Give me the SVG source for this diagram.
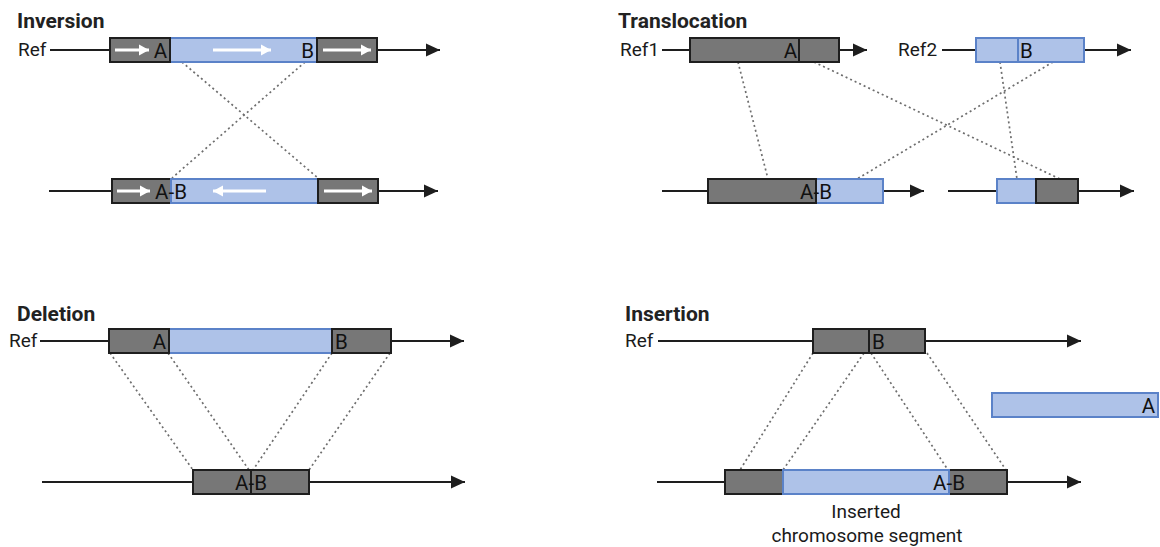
<svg xmlns="http://www.w3.org/2000/svg" width="1160" height="547" viewBox="0 0 1160 547">
  <style>
    .title { font-family: Roboto, "Liberation Sans", sans-serif; font-weight: bold; font-size: 21px; fill: #222; }
    .lbl { font-family: Roboto, "Liberation Sans", sans-serif; font-size: 19px; fill: #1a1a1a; }
    .tag { font-family: Roboto, "Liberation Sans", sans-serif; font-size: 20.5px; fill: #111; }
    .chrom { stroke: #1e1e1e; stroke-width: 2.2; fill: none; }
    .seg-g { fill: #777777; stroke: #1e1e1e; stroke-width: 2; }
    .seg-b { fill: #aec2e8; stroke: #5b82c8; stroke-width: 2; }
    .div-g { stroke: #1e1e1e; stroke-width: 2; }
    .div-b { stroke: #5b82c8; stroke-width: 2; }
    .dir { stroke: #ffffff; stroke-width: 3; fill: none; }
    .dot { stroke: #6e6e6e; stroke-width: 1.7; stroke-dasharray: 2 3; fill: none; }
  </style>
  <defs>
    <marker id="tip" markerUnits="userSpaceOnUse" markerWidth="16" markerHeight="16" refX="14" refY="8" orient="auto">
      <path d="M0,1.5 L14,8 L0,14.5 Z" fill="#1e1e1e"/>
    </marker>
    <marker id="wtip" markerUnits="userSpaceOnUse" markerWidth="12" markerHeight="14" refX="10" refY="7" orient="auto">
      <path d="M0,1.5 L10,7 L0,12.5 Z" fill="#ffffff"/>
    </marker>
  </defs>
  <rect width="1160" height="547" fill="#ffffff"/>

  <!-- panel titles -->
  <g id="titles">
    <text class="title" x="17" y="28">Inversion</text>
    <text class="title" x="618" y="28">Translocation</text>
    <text class="title" x="17" y="321">Deletion</text>
    <text class="title" x="625" y="321">Insertion</text>
  </g>

  <!-- breakpoint correspondences -->
  <g id="connectors">
    <line class="dot" x1="182" y1="62" x2="318" y2="178"/>
    <line class="dot" x1="305" y1="62" x2="172" y2="178"/>

    <line class="dot" x1="738" y1="62" x2="768" y2="179"/>
    <line class="dot" x1="814" y1="62" x2="1060" y2="179"/>
    <line class="dot" x1="1000" y1="62" x2="1017" y2="179"/>
    <line class="dot" x1="1053" y1="62" x2="857" y2="179"/>

    <line class="dot" x1="110" y1="353" x2="193" y2="470"/>
    <line class="dot" x1="168" y1="353" x2="249" y2="470"/>
    <line class="dot" x1="332" y1="353" x2="253" y2="470"/>
    <line class="dot" x1="390" y1="353" x2="309" y2="470"/>

    <line class="dot" x1="813" y1="353" x2="740" y2="470"/>
    <line class="dot" x1="864" y1="353" x2="783" y2="470"/>
    <line class="dot" x1="871" y1="353" x2="948" y2="470"/>
    <line class="dot" x1="927" y1="353" x2="1006" y2="470"/>
  </g>

  <!-- Inversion: reference -->
  <g id="inv-ref">
    <text class="lbl" x="18" y="56">Ref</text>
    <line class="chrom" x1="50" y1="50" x2="440" y2="50" marker-end="url(#tip)"/>
    <rect class="seg-b" x="170" y="38" width="147" height="24"/>
    <rect class="seg-g" x="110" y="38" width="60" height="24"/>
    <rect class="seg-g" x="317" y="38" width="60" height="24"/>
    <line class="dir" x1="115" y1="50" x2="149" y2="50" marker-end="url(#wtip)"/>
    <line class="dir" x1="213" y1="50" x2="271" y2="50" marker-end="url(#wtip)"/>
    <line class="dir" x1="323" y1="50" x2="371" y2="50" marker-end="url(#wtip)"/>
    <text class="tag" x="167" y="57.5" text-anchor="end">A</text>
    <text class="tag" x="314" y="57.5" text-anchor="end">B</text>
  </g>

  <!-- Inversion: rearranged -->
  <g id="inv-alt">
    <line class="chrom" x1="49" y1="191" x2="438" y2="191" marker-end="url(#tip)"/>
    <rect class="seg-g" x="112" y="179" width="59" height="24"/>
    <rect class="seg-b" x="171" y="179" width="147" height="24"/>
    <rect class="seg-g" x="318" y="179" width="60" height="24"/>
    <line class="dir" x1="117" y1="191" x2="150" y2="191" marker-end="url(#wtip)"/>
    <line class="dir" x1="266" y1="191" x2="213" y2="191" marker-end="url(#wtip)"/>
    <line class="dir" x1="324" y1="191" x2="372" y2="191" marker-end="url(#wtip)"/>
    <text class="tag" x="171" y="198.5" text-anchor="middle">A-B</text>
  </g>

  <!-- Translocation: reference chromosome 1 -->
  <g id="tra-ref1">
    <text class="lbl" x="620" y="56">Ref1</text>
    <line class="chrom" x1="662" y1="50" x2="867" y2="50" marker-end="url(#tip)"/>
    <rect class="seg-g" x="690" y="38" width="149" height="24"/>
    <line class="div-g" x1="799" y1="38" x2="799" y2="62"/>
    <text class="tag" x="797" y="57.5" text-anchor="end">A</text>
  </g>

  <!-- Translocation: reference chromosome 2 -->
  <g id="tra-ref2">
    <text class="lbl" x="898" y="56">Ref2</text>
    <line class="chrom" x1="942" y1="50" x2="1131" y2="50" marker-end="url(#tip)"/>
    <rect class="seg-b" x="976" y="38" width="108" height="24"/>
    <line class="div-b" x1="1018" y1="38" x2="1018" y2="62"/>
    <text class="tag" x="1020" y="57.5">B</text>
  </g>

  <!-- Translocation: derivative chromosomes -->
  <g id="tra-der1">
    <line class="chrom" x1="662" y1="191" x2="924" y2="191" marker-end="url(#tip)"/>
    <rect class="seg-b" x="816" y="179" width="67" height="24"/>
    <rect class="seg-g" x="708" y="179" width="108" height="24"/>
    <text class="tag" x="816" y="198.5" text-anchor="middle">A-B</text>
  </g>
  <g id="tra-der2">
    <line class="chrom" x1="948" y1="191" x2="1134" y2="191" marker-end="url(#tip)"/>
    <rect class="seg-b" x="997" y="179" width="39" height="24"/>
    <rect class="seg-g" x="1036" y="179" width="42" height="24"/>
  </g>

  <!-- Deletion: reference -->
  <g id="del-ref">
    <text class="lbl" x="9" y="347">Ref</text>
    <line class="chrom" x1="40" y1="341" x2="464" y2="341" marker-end="url(#tip)"/>
    <rect class="seg-b" x="169" y="329" width="163" height="24"/>
    <rect class="seg-g" x="109" y="329" width="60" height="24"/>
    <rect class="seg-g" x="332" y="329" width="59" height="24"/>
    <text class="tag" x="166" y="348.5" text-anchor="end">A</text>
    <text class="tag" x="335" y="348.5">B</text>
  </g>

  <!-- Deletion: rearranged -->
  <g id="del-alt">
    <line class="chrom" x1="42" y1="482" x2="465" y2="482" marker-end="url(#tip)"/>
    <rect class="seg-g" x="193" y="470" width="116" height="24"/>
    <line class="div-g" x1="251" y1="470" x2="251" y2="494"/>
    <text class="tag" x="251" y="489.5" text-anchor="middle">A-B</text>
  </g>

  <!-- Insertion: reference -->
  <g id="ins-ref">
    <text class="lbl" x="625" y="347">Ref</text>
    <line class="chrom" x1="658" y1="341" x2="1081" y2="341" marker-end="url(#tip)"/>
    <rect class="seg-g" x="813" y="329" width="112" height="24"/>
    <line class="div-g" x1="869" y1="329" x2="869" y2="353"/>
    <text class="tag" x="872" y="348.5">B</text>
  </g>

  <!-- Insertion: donor segment -->
  <g id="ins-seg">
    <rect class="seg-b" x="992" y="393" width="166" height="24"/>
    <text class="tag" x="1155" y="412.5" text-anchor="end">A</text>
  </g>

  <!-- Insertion: rearranged -->
  <g id="ins-alt">
    <line class="chrom" x1="657" y1="482" x2="1081" y2="482" marker-end="url(#tip)"/>
    <rect class="seg-g" x="725" y="470" width="282" height="24"/>
    <rect class="seg-b" x="783" y="470" width="166" height="24"/>
    <text class="tag" x="949" y="489.5" text-anchor="middle">A-B</text>
    <text class="lbl" x="866" y="518" text-anchor="middle">Inserted</text>
    <text class="lbl" x="867" y="542" text-anchor="middle">chromosome segment</text>
  </g>
</svg>
